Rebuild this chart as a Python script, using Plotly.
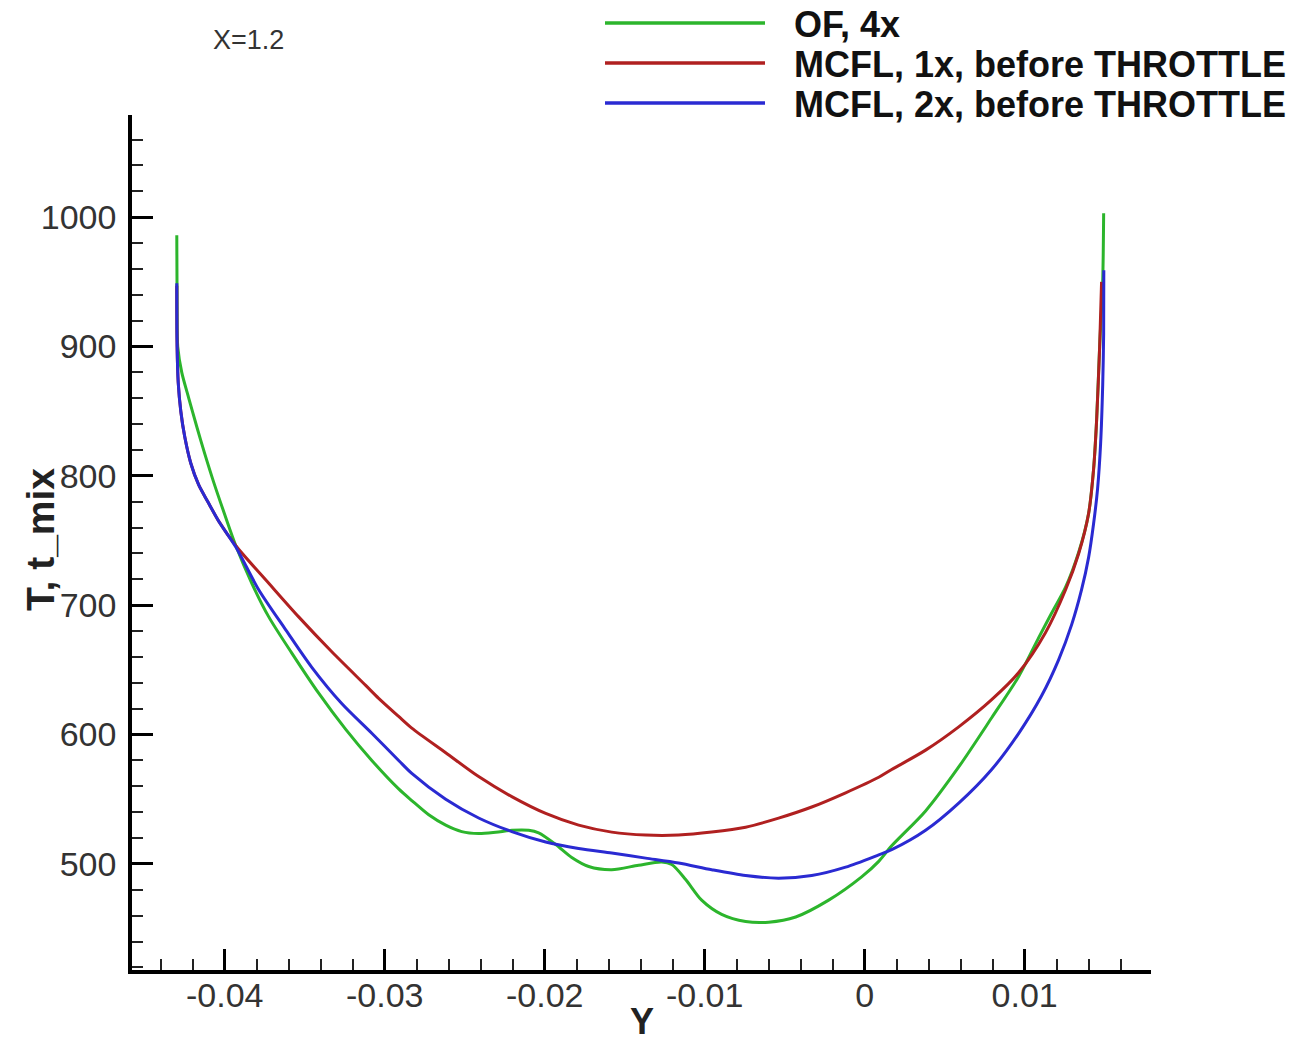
import plotly.graph_objects as go

# ---------------- data ----------------
series_names = ["OF, 4x", "MCFL, 1x, before THROTTLE", "MCFL, 2x, before THROTTLE"]
series_colors = ["#2cb52c", "#b02020", "#2a2ad2"]

of4_y = [-0.04300, -0.04298, -0.04294, -0.04269, -0.04225, -0.04175, -0.04125, -0.04069,
         -0.04000, -0.03931, -0.03831, -0.03725, -0.03581, -0.03413, -0.03244, -0.03081,
         -0.02913, -0.02831, -0.02725, -0.02619, -0.02519, -0.02413, -0.02306, -0.02206,
         -0.02100, -0.02038, -0.01931, -0.01831, -0.01725, -0.01581, -0.01413, -0.01269,
         -0.01206, -0.01119, -0.01019, -0.00894, -0.00744, -0.00600, -0.00431, -0.00225,
         -0.00019, 0.00088, 0.00169, 0.00381, 0.00588, 0.00794, 0.00963, 0.01088, 0.01169,
         0.01256, 0.01338, 0.01400, 0.01431, 0.01450, 0.01469, 0.01488, 0.01494]
of4_t = [986, 930, 900, 880, 860, 838, 817, 795,
         770, 746, 717, 691, 663, 632, 604, 580,
         558, 549, 538, 530, 525, 523.5, 524.5, 526,
         526, 524, 515, 505, 498, 495.5, 499, 501.5,
         499.5, 488, 472, 461, 455.5, 455, 459, 472,
         490, 502, 514, 541, 575, 613, 645, 675, 694,
         714, 741, 771, 805, 843, 900, 950, 1003]

mcfl1_y = [-0.04300, -0.04298, -0.04291, -0.04275, -0.04250, -0.04213, -0.04163, -0.04106,
           -0.04038, -0.03931, -0.03725, -0.03538, -0.03331, -0.03119, -0.03038, -0.02913,
           -0.02831, -0.02619, -0.02413, -0.02206, -0.01994, -0.01788, -0.01581, -0.01369,
           -0.01163, -0.00956, -0.00744, -0.00538, -0.00331, -0.00119, 0.00088, 0.00169,
           0.00381, 0.00588, 0.00794, 0.00963, 0.01131, 0.01256, 0.01338, 0.01400, 0.01431,
           0.01450, 0.01469, 0.01481]
mcfl1_t = [947, 900, 872, 850, 830, 810, 793, 780,
           765, 746, 717, 691, 664, 638, 628, 614,
           605, 586, 567.5, 552, 539, 530, 524.6, 522.3,
           522.3, 524.6, 528.4, 535.4, 544, 555, 567, 573,
           588, 606, 627, 648, 679, 712, 740, 771, 805,
           843, 900, 950]

mcfl2_y = [-0.04300, -0.04298, -0.04291, -0.04275, -0.04250, -0.04213, -0.04163, -0.04106,
           -0.04038, -0.03931, -0.03788, -0.03619, -0.03456, -0.03269, -0.03081, -0.02913,
           -0.02831, -0.02619, -0.02413, -0.02206, -0.01994, -0.01788, -0.01581, -0.01369,
           -0.01163, -0.00956, -0.00744, -0.00538, -0.00331, -0.00119, 0.00088, 0.00169,
           0.00381, 0.00588, 0.00794, 0.00963, 0.01106, 0.01213, 0.01294, 0.01356, 0.01400,
           0.01431, 0.01456, 0.01475, 0.01488, 0.01494, 0.01495]
mcfl2_t = [949, 900, 872, 850, 830, 810, 793, 780,
           765, 745, 712, 681, 652, 624, 601, 580,
           570, 550, 535.5, 525, 517, 512, 508.4, 504.5,
           500.7, 495.5, 491, 489, 491, 497.5, 507, 511,
           526, 547, 573, 601, 630, 658, 685, 712, 737,
           763, 790, 825, 870, 910, 959]

series_x = [of4_y, mcfl1_y, mcfl2_y]
series_t = [of4_t, mcfl1_t, mcfl2_t]

x_tickvals = [-0.04, -0.03, -0.02, -0.01, 0, 0.01]
x_ticktext = ["-0.04", "-0.03", "-0.02", "-0.01", "0", "0.01"]
y_tickvals = [500, 600, 700, 800, 900, 1000]
y_ticktext = ["500", "600", "700", "800", "900", "1000"]

# ---------------- layout geometry ----------------
W, H = 1299, 1042
L, R, T, B = 132, 148, 115, 72
PW, PH = W - L - R, H - T - B


def px_x(p):
    return (p - L) / PW


def px_y(p):
    return (H - B - p) / PH


FONT = "Liberation Sans, Arial, Helvetica, sans-serif"

fig = go.Figure()
for xs, ts, name, col in zip(series_x, series_t, series_names, series_colors):
    fig.add_trace(go.Scatter(x=xs, y=ts, mode="lines", name=name, showlegend=False,
                             line=dict(color=col, width=3, shape="spline", smoothing=0.8)))

# legend drawn as decorations
shapes = []
annotations = []
legend_rows = [23, 63, 103]
for name, col, row in zip(series_names, series_colors, legend_rows):
    shapes.append(dict(type="line", xref="paper", yref="paper",
                       x0=px_x(605), x1=px_x(765), y0=px_y(row), y1=px_y(row),
                       line=dict(color=col, width=3.5)))
    annotations.append(dict(xref="paper", yref="paper", x=px_x(792), y=px_y(row + 1),
                            xanchor="left", yanchor="middle", showarrow=False, text="<b>" + name + "</b>",
                            font=dict(family=FONT, size=36, color="#111")))

annotations.append(dict(xref="paper", yref="paper", x=px_x(248), y=px_y(40),
                        xanchor="center", yanchor="middle", showarrow=False, text="X=1.2",
                        font=dict(family=FONT, size=27, color="#333")))
annotations.append(dict(xref="paper", yref="paper", x=px_x(40), y=px_y(540),
                        xanchor="center", yanchor="middle", showarrow=False, text="<b>T, t_mix</b>",
                        textangle=-90, font=dict(family=FONT, size=39, color="#222")))
annotations.append(dict(xref="paper", yref="paper", x=px_x(642), y=px_y(1021),
                        xanchor="center", yanchor="middle", showarrow=False, text="<b>Y</b>",
                        font=dict(family=FONT, size=36, color="#222")))

fig.update_layout(
    width=W, height=H,
    margin=dict(l=L, r=R, t=T, b=B, pad=0),
    paper_bgcolor="white", plot_bgcolor="white",
    showlegend=False,
    shapes=shapes, annotations=annotations,
    font=dict(family=FONT),
)

fig.update_xaxes(range=[-0.0458, 0.0179], showgrid=False, zeroline=False,
                 showline=True, linecolor="black", linewidth=3.5,
                 ticks="inside", ticklen=21, tickwidth=3, tickcolor="black",
                 tickvals=x_tickvals, ticktext=x_ticktext, ticklabelstandoff=-8,
                 tickfont=dict(family=FONT, size=34, color="#333"),
                 minor=dict(ticks="inside", ticklen=11, tickwidth=2, tickcolor="#222", dtick=0.002, tick0=0, showgrid=False))
fig.update_yaxes(range=[418, 1079], showgrid=False, zeroline=False,
                 showline=True, linecolor="black", linewidth=3.5,
                 ticks="inside", ticklen=21, tickwidth=3, tickcolor="black",
                 tickvals=y_tickvals, ticktext=y_ticktext, ticklabelstandoff=5,
                 tickfont=dict(family=FONT, size=34, color="#333"),
                 minor=dict(ticks="inside", ticklen=11, tickwidth=2, tickcolor="#222", dtick=20, tick0=0, showgrid=False))

fig.write_html("out.html")
